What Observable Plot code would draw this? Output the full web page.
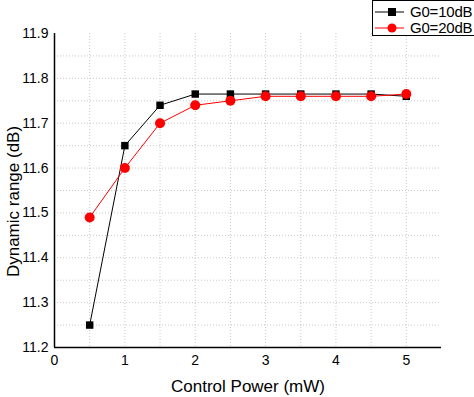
<!DOCTYPE html>
<html><head><meta charset="utf-8">
<script src="https://cdn.jsdelivr.net/npm/d3@7"></script>
<script src="https://cdn.jsdelivr.net/npm/@observablehq/plot@0.6"></script>
<style>
body{margin:0;background:#fff;font-family:"Liberation Sans",Arial,sans-serif;}
#wrap{position:relative;width:474px;height:397px;overflow:hidden;}
#legend{position:absolute;left:372px;top:0px;width:120px;height:36px;border:1px solid #000;background:#fff;box-sizing:border-box;font-size:15px;}
#legend .row{position:absolute;left:0;height:16px;display:flex;align-items:center;white-space:nowrap;}
</style>
</head><body><div id="wrap"></div>
<script>
const power = [0.5, 1, 1.5, 2, 2.5, 3, 3.5, 4, 4.5, 5];
const g10 = [11.25, 11.65, 11.74, 11.765, 11.765, 11.765, 11.765, 11.765, 11.765, 11.76];
const g20 = [11.49, 11.60, 11.70, 11.74, 11.75, 11.76, 11.76, 11.76, 11.76, 11.765];
const seriesNames = ["G0=10dB", "G0=20dB"];
const seriesColors = ["#000000", "#ff0000"];
const xTicks = [0, 1, 2, 3, 4, 5];
const yTicks = [11.2, 11.3, 11.4, 11.5, 11.6, 11.7, 11.8, 11.9];
const xGrid = [0.5, 1, 1.5, 2, 2.5, 3, 3.5, 4, 4.5, 5];
const yGrid = [11.25, 11.3, 11.35, 11.4, 11.45, 11.5, 11.55, 11.6, 11.65, 11.7, 11.75, 11.8, 11.85];

const d10 = power.map((p, i) => ({x: p, y: g10[i]}));
const d20 = power.map((p, i) => ({x: p, y: g20[i]}));

const chart = Plot.plot({
  width: 474, height: 397,
  marginLeft: 54, marginRight: 33, marginTop: 33, marginBottom: 50,
  style: {fontFamily: '"Liberation Sans", Arial, sans-serif', fontSize: "14px", color: "#000", background: "#fff"},
  x: {domain: [0, 5.5], ticks: xTicks, tickSize: 0, tickPadding: 8, tickFormat: d3.format("d"), label: "Control Power (mW)", labelArrow: "none", labelAnchor: "center", labelOffset: 44},
  y: {domain: [11.2, 11.9], ticks: yTicks, tickSize: 0, tickPadding: 6, tickFormat: d3.format(".1f"), label: "Dynamic range (dB)", labelArrow: "none", labelAnchor: "center", labelOffset: 48},
  marks: [
    Plot.ruleX(xGrid, {stroke: "#c8c8c8", strokeDasharray: "1,2", strokeWidth: 1}),
    Plot.ruleY(yGrid, {stroke: "#c8c8c8", strokeDasharray: "1,2", strokeWidth: 1}),
    Plot.ruleX([0], {stroke: "#000", strokeWidth: 1.5}),
    Plot.ruleY([11.2], {stroke: "#000", strokeWidth: 1.5}),
    Plot.line(d10, {x: "x", y: "y", stroke: seriesColors[0], strokeWidth: 1}),
    Plot.line(d20, {x: "x", y: "y", stroke: seriesColors[1], strokeWidth: 1}),
    Plot.dot(d10, {x: "x", y: "y", symbol: "square", r: 4.2, fill: seriesColors[0], stroke: "none"}),
    Plot.dot(d20, {x: "x", y: "y", symbol: "circle", r: 5, fill: seriesColors[1], stroke: "none"})
  ]
});
chart.querySelectorAll('[aria-label="x-axis label"] text').forEach(t => t.style.fontSize = "17px");
chart.querySelectorAll('[aria-label="y-axis label"]').forEach(g => {
  g.querySelectorAll("text").forEach(t => t.style.fontSize = "17px");
  const tr = g.getAttribute("transform") || "";
  g.setAttribute("transform", "translate(0,11) " + tr);
});
const wrap = document.getElementById("wrap");
wrap.appendChild(chart);

const leg = document.createElement("div");
leg.id = "legend";
seriesNames.forEach((name, i) => {
  const row = document.createElement("div");
  row.className = "row";
  row.style.top = (3 + i * 16) + "px";
  const sym = i === 0
    ? `<rect x="15" y="4" width="8" height="8" fill="${seriesColors[i]}"/>`
    : `<circle cx="19" cy="8" r="4.5" fill="${seriesColors[i]}"/>`;
  row.innerHTML = `<svg width="34" height="16"><line x1="2" x2="31" y1="8" y2="8" stroke="${seriesColors[i]}" stroke-width="1"/>${sym}</svg><span style="margin-left:3px;line-height:16px;letter-spacing:-0.2px">${name}</span>`;
  leg.appendChild(row);
});
wrap.appendChild(leg);
</script></body></html>
